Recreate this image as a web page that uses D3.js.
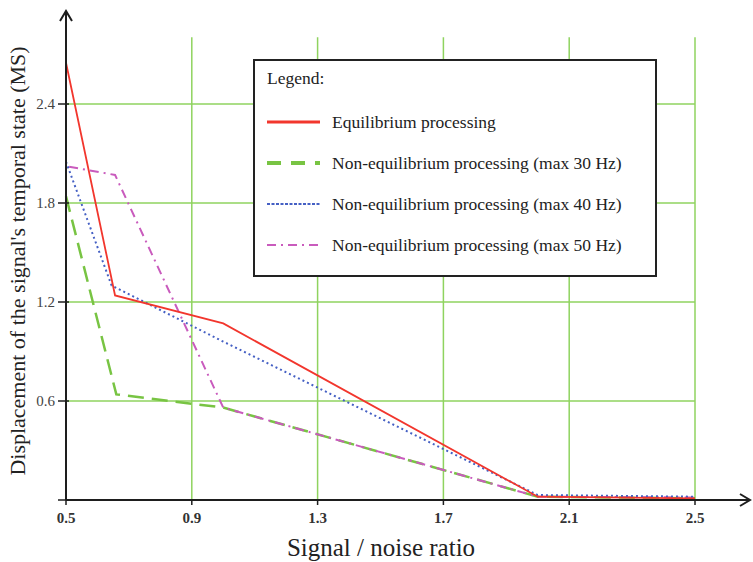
<!DOCTYPE html>
<html lang="en">
<head>
  <meta charset="UTF-8" />
  <title>Signal displacement vs signal/noise ratio</title>
  <style>
    body { margin: 0; background: #fff; }
    text { font-family: "Liberation Serif", "Times New Roman", serif; }
  </style>
</head>
<body>
  <div class="chart"></div>
  <script src="https://cdn.jsdelivr.net/npm/d3@7/dist/d3.min.js"></script>
  <script>
    // values
    var seriesNames = ["Equilibrium processing",
      "Non-equilibrium processing (max 30 Hz)",
      "Non-equilibrium processing (max 40 Hz)",
      "Non-equilibrium processing (max 50 Hz)"];
    var xEq = [0.5, 0.656, 1.0, 2.0, 2.5];
    var yEq = [2.65, 1.24, 1.07, 0.02, 0.01];
    var x30 = [0.5, 0.66, 1.0, 2.0, 2.5];
    var y30 = [1.84, 0.64, 0.56, 0.02, 0.01];
    var x40 = [0.5, 0.645, 1.0, 2.0, 2.5];
    var y40 = [2.05, 1.30, 0.96, 0.03, 0.02];
    var x50 = [0.51, 0.656, 1.0, 2.0, 2.5];
    var y50 = [2.02, 1.97, 0.56, 0.02, 0.015];
    var xTicks = [0.5, 0.9, 1.3, 1.7, 2.1, 2.5];
    var yTicks = [0.6, 1.2, 1.8, 2.4];

    var w = 753, h = 562;
    var svg = d3.select(".chart").append("svg")
      .attr("width", w)
      .attr("height", h);

    var x = d3.scaleLinear().domain([0.5, 2.5]).range([66, 695]);
    var y = d3.scaleLinear().domain([0, 2.4]).range([500, 104]);
    var gridTop = y(2.805);

    var gridColor = "#8fd35f";

    // gridlines
    svg.append("g").selectAll("line")
      .data(yTicks)
      .enter()
      .append("line")
      .attr("x1", x(0.5))
      .attr("x2", x(2.5))
      .attr("y1", function(d) { return y(d); })
      .attr("y2", function(d) { return y(d); })
      .attr("stroke", gridColor)
      .attr("stroke-width", 1.5);

    svg.append("g").selectAll("line")
      .data(xTicks.slice(1))
      .enter()
      .append("line")
      .attr("x1", function(d) { return x(d); })
      .attr("x2", function(d) { return x(d); })
      .attr("y1", y(0))
      .attr("y2", gridTop)
      .attr("stroke", gridColor)
      .attr("stroke-width", 1.5);

    var series = [
      { xs: x30, ys: y30, color: "#78c443", width: 2.5, dash: "16,8" },
      { xs: x50, ys: y50, color: "#c95bbd", width: 2, dash: "9,5,2,5" },
      { xs: x40, ys: y40, color: "#4560c4", width: 2, dash: "2,3" },
      { xs: xEq, ys: yEq, color: "#f2362d", width: 1.8, dash: null }
    ];

    var line = d3.line()
      .x(function(d) { return x(d[0]); })
      .y(function(d) { return y(d[1]); });

    svg.append("g").selectAll("path")
      .data(series)
      .enter()
      .append("path")
      .attr("d", function(s) { return line(d3.zip(s.xs, s.ys)); })
      .attr("fill", "none")
      .attr("stroke", function(s) { return s.color; })
      .attr("stroke-width", function(s) { return s.width; })
      .attr("stroke-dasharray", function(s) { return s.dash; });

    // axes
    var axisColor = "#1e1e1e";
    svg.append("line")
      .attr("x1", x(0.5)).attr("x2", 750)
      .attr("y1", y(0)).attr("y2", y(0))
      .attr("stroke", axisColor).attr("stroke-width", 2);
    svg.append("path")
      .attr("d", "M740,494L750,500L740,506")
      .attr("fill", "none").attr("stroke", axisColor).attr("stroke-width", 2);
    svg.append("line")
      .attr("x1", x(0.5)).attr("x2", x(0.5))
      .attr("y1", y(0)).attr("y2", 11)
      .attr("stroke", axisColor).attr("stroke-width", 2);
    svg.append("path")
      .attr("d", "M60,21L66,11L72,21")
      .attr("fill", "none").attr("stroke", axisColor).attr("stroke-width", 2);

    svg.append("g").selectAll("line")
      .data(xTicks)
      .enter()
      .append("line")
      .attr("x1", function(d) { return x(d); })
      .attr("x2", function(d) { return x(d); })
      .attr("y1", y(0))
      .attr("y2", y(0) + 5)
      .attr("stroke", axisColor).attr("stroke-width", 1.5);
    svg.append("g").selectAll("text")
      .data(xTicks)
      .enter()
      .append("text")
      .attr("x", function(d) { return x(d); })
      .attr("y", 523)
      .attr("text-anchor", "middle")
      .attr("font-size", "15px")
      .attr("font-weight", "bold")
      .attr("fill", "#333")
      .text(function(d) { return d.toFixed(1); });

    svg.append("g").selectAll("line")
      .data([0].concat(yTicks))
      .enter()
      .append("line")
      .attr("x1", x(0.5) - 8)
      .attr("x2", x(0.5) + 3)
      .attr("y1", function(d) { return y(d); })
      .attr("y2", function(d) { return y(d); })
      .attr("stroke", axisColor).attr("stroke-width", 1.5);
    svg.append("g").selectAll("text")
      .data(yTicks)
      .enter()
      .append("text")
      .attr("x", 55)
      .attr("y", function(d) { return y(d) + 5; })
      .attr("text-anchor", "end")
      .attr("font-size", "15px")
      .attr("fill", "#444")
      .text(function(d) { return d.toFixed(1); });

    // axis titles
    svg.append("text")
      .attr("transform", "translate(25,261) rotate(-90)")
      .attr("text-anchor", "middle")
      .attr("font-size", "22px")
      .attr("fill", "#222")
      .text("Displacement of the signal's temporal state (MS)");
    svg.append("text")
      .attr("x", 381)
      .attr("y", 556)
      .attr("text-anchor", "middle")
      .attr("font-size", "25px")
      .attr("fill", "#222")
      .text("Signal / noise ratio");

    // legend
    var legend = svg.append("g");
    legend.append("rect")
      .attr("x", 254).attr("y", 60)
      .attr("width", 402).attr("height", 216)
      .attr("fill", "#fff")
      .attr("stroke", "#222").attr("stroke-width", 2);
    legend.append("text")
      .attr("x", 267).attr("y", 84)
      .attr("font-size", "17.5px")
      .attr("fill", "#222")
      .text("Legend:");
    var legRows = [series[3], series[0], series[2], series[1]];
    legend.selectAll("line.item")
      .data(legRows)
      .enter()
      .append("line")
      .attr("class", "item")
      .attr("x1", 267).attr("x2", 320)
      .attr("y1", function(d, i) { return 122 + i * 41; })
      .attr("y2", function(d, i) { return 122 + i * 41; })
      .attr("stroke", function(s) { return s.color; })
      .attr("stroke-width", function(s, i) { return i == 0 ? 3 : (i == 1 ? 4 : 2); })
      .attr("stroke-dasharray", function(s, i) {
        return i == 1 ? "14,10" : (i == 2 ? "3,1.5" : s.dash);
      });
    legend.selectAll("text.item")
      .data(seriesNames)
      .enter()
      .append("text")
      .attr("class", "item")
      .attr("x", 332)
      .attr("y", function(d, i) { return 128 + i * 41; })
      .attr("font-size", "17.5px")
      .attr("fill", "#222")
      .text(function(d) { return d; });
  </script>
</body>
</html>
